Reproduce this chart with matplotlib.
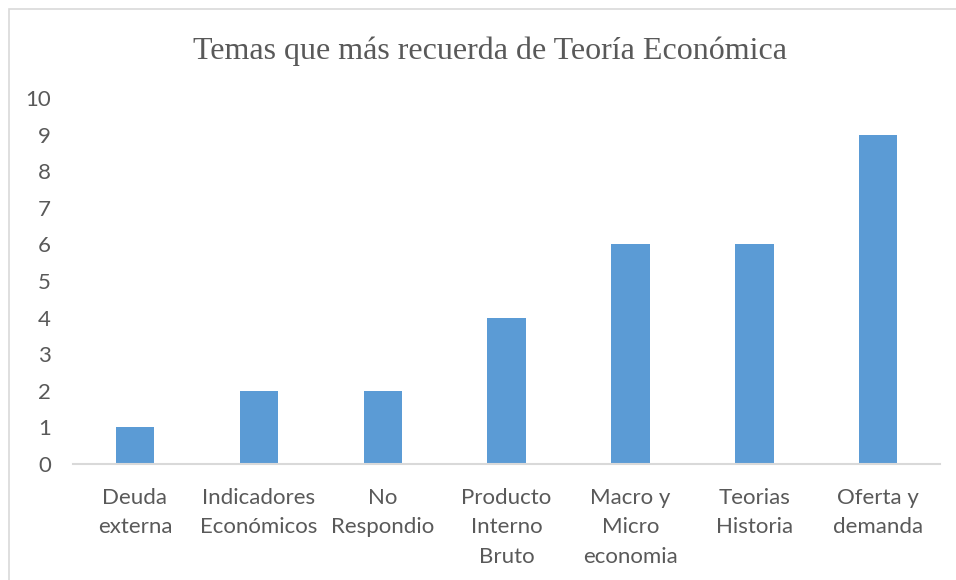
import matplotlib
matplotlib.use('Agg')
import matplotlib.pyplot as plt
from matplotlib.patches import Rectangle

# data
categories = ['Deuda\nexterna', 'Indicadores\nEconómicos', 'No\nRespondio',
              'Producto\nInterno\nBruto', 'Macro y\nMicro\neconomia',
              'Teorias\nHistoria', 'Oferta y\ndemanda']
values = [1, 2, 2, 4, 6, 6, 9]
yticks = list(range(0, 11))

text_color = '#595959'
bar_color = '#5B9BD5'

fig = plt.figure(figsize=(9.56, 5.8), dpi=100)
ax = fig.add_axes([0.0764, 0.2, 0.907, 0.631])

x = range(len(categories))
ax.bar(x, values, width=0.31, color=bar_color)
ax.set_xlim(-0.5, len(categories) - 0.5)
ax.set_ylim(0, 10)
ax.set_yticks(yticks)
ax.set_xticks(list(x))
ax.set_xticklabels(categories, linespacing=1.6)

for s in ['top', 'right', 'left']:
    ax.spines[s].set_visible(False)
ax.spines['bottom'].set_color('#D9D9D9')
ax.spines['bottom'].set_linewidth(1.5)
ax.tick_params(axis='both', length=0, labelsize=16, labelcolor=text_color, labelfontfamily='Lato')
ax.tick_params(axis='x', pad=17)
ax.tick_params(axis='y', pad=16)

fig.text(0.513, 0.912, 'Temas que más recuerda de Teoría Económica',
         ha='center', va='center', fontsize=23, color=text_color,
         family='Liberation Serif')

# outer chart border
fig.patches.append(Rectangle((9 / 956, -0.01), 1.0, 1 - 9 / 580 + 0.01,
                             transform=fig.transFigure, fill=False,
                             edgecolor='#D9D9D9', linewidth=1.2))

fig.savefig('out.png', dpi=100)
